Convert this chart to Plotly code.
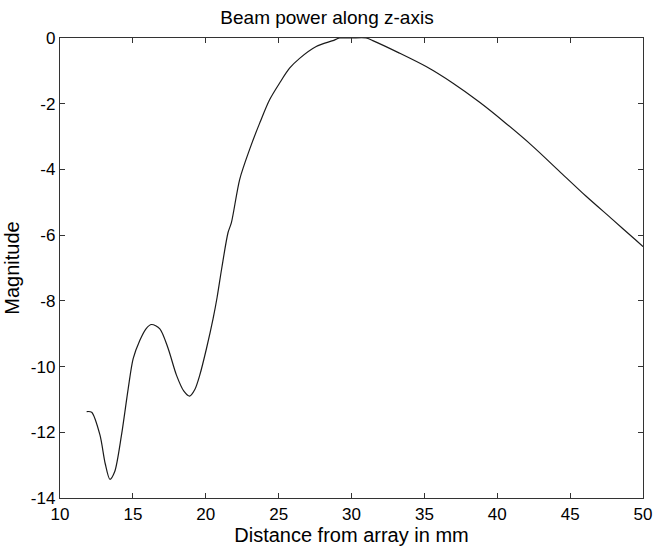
import plotly.graph_objects as go

distance_mm = [11.83, 12.17, 12.74, 13.1, 13.42, 13.75, 14.22, 14.68, 15.02, 15.48, 15.9, 16.28, 16.85,
               17.42, 17.99, 18.5, 18.9, 19.25, 19.59, 20.05, 20.5, 20.78, 21.1, 21.53, 21.76,
               22.33, 23.01, 23.70, 24.38, 25.07, 25.75, 26.44, 27.58, 28.72, 29.18, 30.0,
               31.0, 31.46, 33.29, 35.12, 36.94, 38.77, 40.6, 42.42, 44.25, 46.08, 47.9,
               49.5, 50.0]
magnitude = [-11.37, -11.39, -12.08, -12.95, -13.43, -13.2, -12.08, -10.67, -9.76, -9.2, -8.85, -8.72, -8.85,
             -9.45, -10.26, -10.75, -10.9, -10.7, -10.26, -9.45, -8.55, -7.89, -7.0, -5.92, -5.62,
             -4.30, -3.39, -2.59, -1.88, -1.37, -0.92, -0.62, -0.26, -0.08, 0.0, 0.0,
             0.0, -0.08, -0.46, -0.87, -1.37, -1.95, -2.60, -3.29, -4.05, -4.81, -5.52,
             -6.15, -6.35]

x_ticks = [10, 15, 20, 25, 30, 35, 40, 45, 50]
y_ticks = [0, -2, -4, -6, -8, -10, -12, -14]

font_family = "Liberation Sans, Arial, Helvetica, sans-serif"

fig = go.Figure()
fig.add_trace(go.Scatter(
    x=distance_mm, y=magnitude, mode="lines",
    line=dict(color="#1a1a1a", width=1.2, shape="spline", smoothing=0.8),
    showlegend=False, hoverinfo="skip",
))

axis_common = dict(
    showgrid=False, zeroline=False, showline=True, linecolor="#333333", linewidth=1.2,
    mirror="ticks", ticks="inside", ticklen=5, tickwidth=1, tickcolor="#333333",
    tickfont=dict(family=font_family, size=17, color="black"),
    automargin=False,
)

fig.update_layout(
    width=654, height=553,
    margin=dict(l=60, r=11, t=38, b=55, autoexpand=False),
    paper_bgcolor="white", plot_bgcolor="white",
    font=dict(family=font_family, color="black"),
    title=dict(text="Beam power along z-axis", x=0.5, xanchor="center",
               y=1 - 17 / 553, yanchor="middle",
               font=dict(family=font_family, size=19, color="black")),
    xaxis=dict(range=[10, 50], tickvals=x_ticks, ticktext=[str(v) for v in x_ticks],
               title=dict(text="Distance from array in mm", standoff=4,
                          font=dict(family=font_family, size=20, color="black")),
               **axis_common),
    yaxis=dict(range=[-14, 0], tickvals=y_ticks, ticktext=[str(v) for v in y_ticks],
               title=dict(text="Magnitude", standoff=5,
                          font=dict(family=font_family, size=20, color="black")),
               **axis_common),
)

fig.write_html("out.html",
               config={"displayModeBar": False, "staticPlot": True},
               post_script="document.body.style.margin='0';document.body.style.overflow='hidden';")
